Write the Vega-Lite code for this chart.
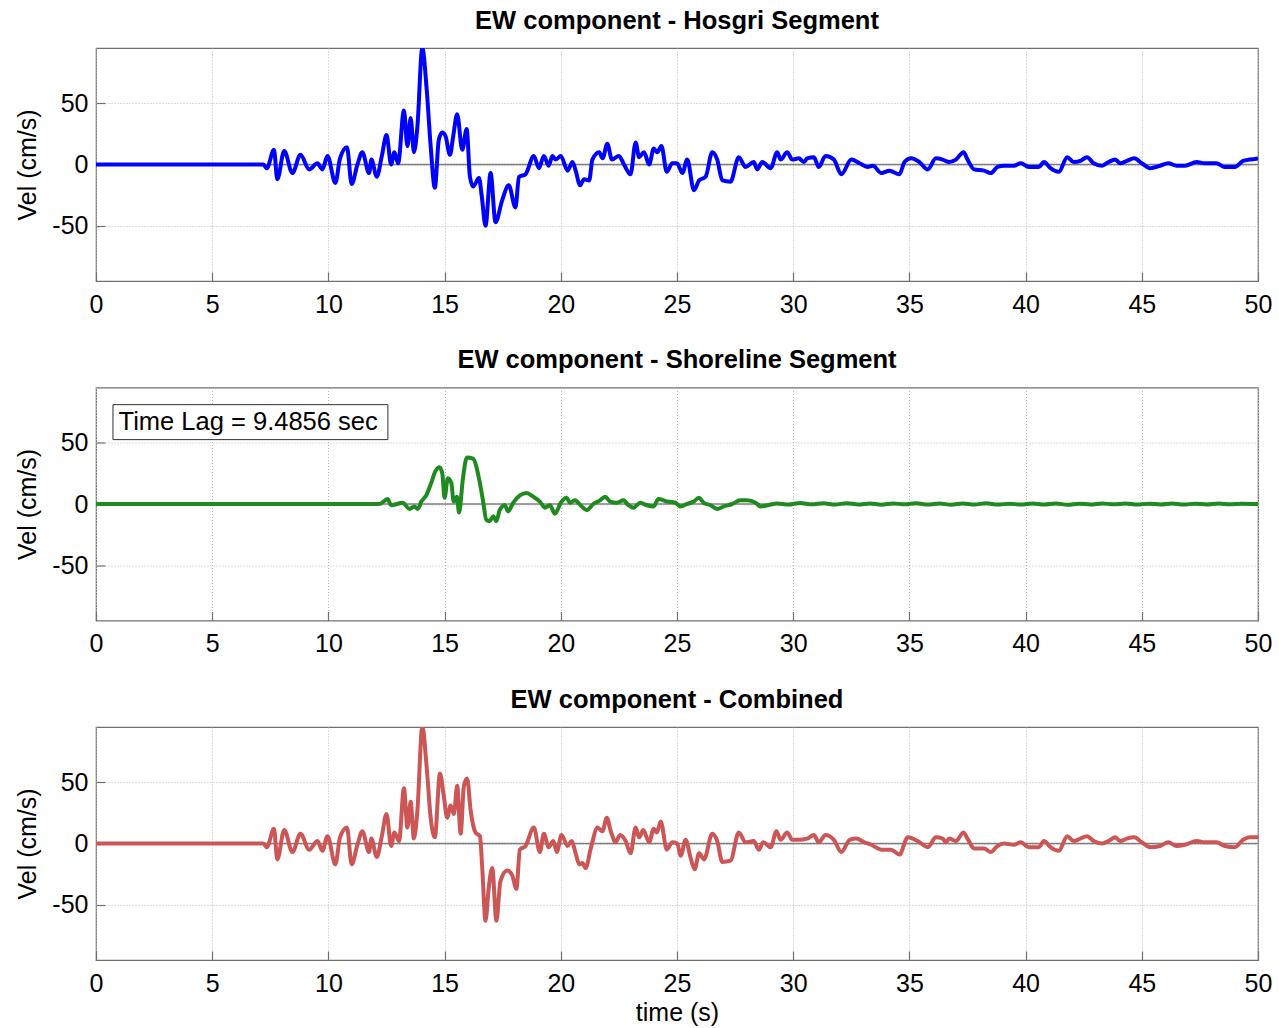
{
  "$schema": "https://vega.github.io/schema/vega-lite/v6.json",
  "padding": {"left": 15, "top": 7, "right": 20, "bottom": 0},
  "spacing": 28.5,
  "config": {
    "font": "Liberation Sans",
    "background": "white",
    "view": {"stroke": "#707070", "strokeWidth": 1.2},
    "axis": {
      "labelFont": "Liberation Sans", "labelFontSize": 25, "labelColor": "#000000", "labelFlush": false,
      "labelExpr": "'' + datum.value",
      "titleFont": "Liberation Sans", "titleFontSize": 25, "titleFontWeight": "normal", "titleColor": "#000000",
      "grid": true, "gridColor": "#b8b8b8", "gridDash": [1, 2], "gridWidth": 1,
      "domain": false, "tickColor": "#707070", "tickSize": -9, "tickWidth": 1.2
    },
    "title": {"font": "Liberation Sans", "fontSize": 25.5, "fontWeight": "bold", "color": "#000000", "anchor": "middle", "offset": 14}
  },
  "datasets": {
    "hosgri": [
      {"t":0,"v":0},{"t":7.2,"v":0},{"t":7.35,"v":-3},{"t":7.66,"v":12},{"t":7.8,"v":-12},{"t":8.1,"v":11},{"t":8.45,"v":-7},{"t":8.8,"v":8},{"t":9.17,"v":-4},{"t":9.53,"v":1},{"t":9.74,"v":-4},{"t":9.96,"v":7},{"t":10.3,"v":-15},{"t":10.5,"v":5},{"t":10.8,"v":14},{"t":11.0,"v":-16},{"t":11.25,"v":0},{"t":11.46,"v":10},{"t":11.75,"v":-7},{"t":11.85,"v":4},{"t":12.08,"v":-10},{"t":12.3,"v":7},{"t":12.5,"v":24},{"t":12.7,"v":0},{"t":12.84,"v":10},{"t":13.0,"v":1},{"t":13.25,"v":44},{"t":13.4,"v":15},{"t":13.54,"v":38},{"t":13.68,"v":10},{"t":13.83,"v":31},{"t":14.04,"v":95},{"t":14.23,"v":61},{"t":14.4,"v":15},{"t":14.58,"v":-19},{"t":14.75,"v":20},{"t":14.9,"v":26},{"t":15.04,"v":23},{"t":15.23,"v":8},{"t":15.37,"v":23},{"t":15.54,"v":41},{"t":15.76,"v":12},{"t":15.95,"v":29},{"t":16.09,"v":-10},{"t":16.23,"v":-18},{"t":16.48,"v":-11},{"t":16.6,"v":-26},{"t":16.76,"v":-50},{"t":16.98,"v":-7},{"t":17.19,"v":-47},{"t":17.48,"v":-29},{"t":17.76,"v":-17},{"t":18.05,"v":-35},{"t":18.2,"v":-10},{"t":18.48,"v":-8},{"t":18.84,"v":7},{"t":19.06,"v":-3},{"t":19.27,"v":7},{"t":19.48,"v":-1},{"t":19.64,"v":7},{"t":19.78,"v":4},{"t":20.0,"v":7},{"t":20.29,"v":-5},{"t":20.5,"v":2},{"t":20.64,"v":-5},{"t":20.83,"v":-17},{"t":21.0,"v":-12},{"t":21.22,"v":-13},{"t":21.36,"v":4},{"t":21.65,"v":10},{"t":21.8,"v":5},{"t":22.0,"v":17},{"t":22.2,"v":4},{"t":22.5,"v":7},{"t":22.72,"v":0},{"t":23.0,"v":-8},{"t":23.22,"v":18},{"t":23.37,"v":6},{"t":23.58,"v":10},{"t":23.8,"v":0},{"t":24.0,"v":13},{"t":24.15,"v":10},{"t":24.33,"v":15},{"t":24.56,"v":-6},{"t":24.8,"v":1},{"t":25.0,"v":1},{"t":25.23,"v":-7},{"t":25.44,"v":4},{"t":25.73,"v":-21},{"t":25.95,"v":-13},{"t":26.23,"v":-10},{"t":26.52,"v":10},{"t":26.73,"v":4},{"t":26.95,"v":-13},{"t":27.3,"v":-14},{"t":27.66,"v":6},{"t":27.95,"v":-2},{"t":28.3,"v":2},{"t":28.45,"v":-4},{"t":28.67,"v":2},{"t":29.03,"v":-3},{"t":29.31,"v":10},{"t":29.46,"v":4},{"t":29.74,"v":10},{"t":29.96,"v":4},{"t":30.24,"v":5},{"t":30.46,"v":2},{"t":30.6,"v":5},{"t":30.89,"v":6},{"t":31.1,"v":-2},{"t":31.39,"v":7},{"t":31.75,"v":4},{"t":32.07,"v":-8},{"t":32.5,"v":4},{"t":32.86,"v":1},{"t":33.2,"v":-2},{"t":33.43,"v":-1},{"t":33.79,"v":-7},{"t":34.14,"v":-5},{"t":34.57,"v":-8},{"t":34.79,"v":2},{"t":35.07,"v":5},{"t":35.43,"v":2},{"t":35.79,"v":-4},{"t":36.14,"v":5},{"t":36.43,"v":4},{"t":36.71,"v":2},{"t":37.0,"v":4},{"t":37.33,"v":10},{"t":37.5,"v":4},{"t":37.79,"v":-4},{"t":38.21,"v":-5},{"t":38.5,"v":-7},{"t":38.79,"v":-2},{"t":39.07,"v":-1},{"t":39.5,"v":-1},{"t":39.79,"v":1},{"t":40.14,"v":-2},{"t":40.57,"v":-2},{"t":40.79,"v":2},{"t":41.07,"v":-3},{"t":41.43,"v":-6},{"t":41.79,"v":6},{"t":42.07,"v":2},{"t":42.36,"v":3},{"t":42.64,"v":6},{"t":42.93,"v":1},{"t":43.29,"v":-1},{"t":43.57,"v":2},{"t":43.86,"v":4},{"t":44.07,"v":1},{"t":44.36,"v":3},{"t":44.67,"v":5},{"t":45.0,"v":1},{"t":45.36,"v":-3},{"t":45.79,"v":-1},{"t":46.14,"v":1},{"t":46.5,"v":-1},{"t":46.86,"v":-1},{"t":47.36,"v":2},{"t":47.71,"v":1},{"t":48.21,"v":1},{"t":48.57,"v":-2},{"t":49.0,"v":-2},{"t":49.36,"v":3},{"t":49.64,"v":4},{"t":50,"v":5}
    ],
    "shoreline": [
      {"t":0,"v":0},{"t":12.2,"v":0},{"t":12.55,"v":4},{"t":12.7,"v":-1},{"t":13.2,"v":1},{"t":13.49,"v":-4},{"t":13.7,"v":-2},{"t":13.85,"v":-4},{"t":14.0,"v":2},{"t":14.21,"v":7},{"t":14.42,"v":17},{"t":14.61,"v":27},{"t":14.78,"v":30},{"t":14.9,"v":25},{"t":15.0,"v":5},{"t":15.14,"v":21},{"t":15.29,"v":17},{"t":15.39,"v":2},{"t":15.53,"v":6},{"t":15.62,"v":-7},{"t":15.79,"v":21},{"t":15.96,"v":38},{"t":16.22,"v":37},{"t":16.51,"v":18},{"t":16.65,"v":3},{"t":16.8,"v":-13},{"t":16.94,"v":-14},{"t":17.09,"v":-10},{"t":17.23,"v":-14},{"t":17.37,"v":-5},{"t":17.59,"v":-1},{"t":17.73,"v":-6},{"t":17.95,"v":1},{"t":18.24,"v":7},{"t":18.53,"v":9},{"t":18.81,"v":6},{"t":19.1,"v":2},{"t":19.32,"v":-3},{"t":19.53,"v":-1},{"t":19.75,"v":-8},{"t":20.0,"v":1},{"t":20.25,"v":5},{"t":20.4,"v":1},{"t":20.6,"v":3},{"t":20.9,"v":-2},{"t":21.12,"v":-5},{"t":21.4,"v":0},{"t":21.69,"v":3},{"t":21.91,"v":6},{"t":22.12,"v":2},{"t":22.41,"v":1},{"t":22.7,"v":3},{"t":22.91,"v":-1},{"t":23.13,"v":-3},{"t":23.42,"v":1},{"t":23.7,"v":-1},{"t":23.99,"v":-2},{"t":24.2,"v":4},{"t":24.57,"v":2},{"t":24.93,"v":1},{"t":25.14,"v":-2},{"t":25.43,"v":0},{"t":25.72,"v":2},{"t":25.94,"v":5},{"t":26.15,"v":1},{"t":26.44,"v":-1},{"t":26.73,"v":-4},{"t":27.01,"v":-2},{"t":27.37,"v":0},{"t":27.73,"v":3},{"t":28.02,"v":3},{"t":28.38,"v":1},{"t":28.6,"v":-2},{"t":28.9,"v":-1},{"t":29.3,"v":0.5},{"t":29.8,"v":-0.5},{"t":30.3,"v":0.8},{"t":30.8,"v":-0.3},{"t":31.3,"v":0.6},{"t":31.8,"v":-0.5},{"t":32.3,"v":0.7},{"t":32.8,"v":-0.4},{"t":33.3,"v":0.5},{"t":33.8,"v":-0.6},{"t":34.3,"v":0.5},{"t":34.8,"v":-0.3},{"t":35.3,"v":0.6},{"t":35.8,"v":-0.5},{"t":36.3,"v":0.4},{"t":36.8,"v":-0.6},{"t":37.3,"v":0.5},{"t":37.8,"v":-0.4},{"t":38.3,"v":0.6},{"t":38.8,"v":-0.5},{"t":39.3,"v":0.3},{"t":39.8,"v":-0.5},{"t":40.3,"v":0.5},{"t":40.8,"v":-0.4},{"t":41.3,"v":0.4},{"t":41.8,"v":-0.6},{"t":42.3,"v":0.3},{"t":42.8,"v":-0.4},{"t":43.3,"v":0.5},{"t":43.8,"v":-0.3},{"t":44.3,"v":0.4},{"t":44.8,"v":-0.5},{"t":45.3,"v":0.3},{"t":45.8,"v":-0.4},{"t":46.3,"v":0.4},{"t":46.8,"v":-0.5},{"t":47.3,"v":0.3},{"t":47.8,"v":-0.4},{"t":48.3,"v":0.4},{"t":48.8,"v":-0.3},{"t":49.3,"v":0.3},{"t":50,"v":0}
    ],
    "combined": [
      {"t":0,"v":0},{"t":7.2,"v":0},{"t":7.35,"v":-3},{"t":7.66,"v":12},{"t":7.8,"v":-13},{"t":8.1,"v":11},{"t":8.45,"v":-7},{"t":8.8,"v":8},{"t":9.17,"v":-5},{"t":9.53,"v":2},{"t":9.74,"v":-6},{"t":9.96,"v":6},{"t":10.3,"v":-17},{"t":10.5,"v":5},{"t":10.8,"v":13},{"t":11.0,"v":-17},{"t":11.25,"v":-1},{"t":11.46,"v":10},{"t":11.75,"v":-7},{"t":11.85,"v":4},{"t":12.08,"v":-11},{"t":12.3,"v":6},{"t":12.5,"v":24},{"t":12.7,"v":-2},{"t":12.84,"v":9},{"t":13.04,"v":2},{"t":13.25,"v":45},{"t":13.4,"v":13},{"t":13.54,"v":34},{"t":13.68,"v":4},{"t":13.83,"v":27},{"t":14.04,"v":95},{"t":14.23,"v":62},{"t":14.4,"v":21},{"t":14.58,"v":5},{"t":14.8,"v":57},{"t":14.97,"v":38},{"t":15.11,"v":21},{"t":15.26,"v":31},{"t":15.4,"v":24},{"t":15.54,"v":47},{"t":15.69,"v":8},{"t":15.83,"v":47},{"t":15.97,"v":53},{"t":16.12,"v":27},{"t":16.33,"v":9},{"t":16.52,"v":6},{"t":16.62,"v":-20},{"t":16.76,"v":-63},{"t":16.9,"v":-36},{"t":17.05,"v":-20},{"t":17.23,"v":-63},{"t":17.4,"v":-31},{"t":17.69,"v":-22},{"t":17.91,"v":-26},{"t":18.09,"v":-37},{"t":18.24,"v":-5},{"t":18.48,"v":-2},{"t":18.84,"v":13},{"t":19.1,"v":-7},{"t":19.27,"v":8},{"t":19.48,"v":-3},{"t":19.68,"v":2},{"t":19.83,"v":-7},{"t":20.03,"v":7},{"t":20.29,"v":-2},{"t":20.46,"v":2},{"t":20.64,"v":-8},{"t":20.79,"v":-17},{"t":20.93,"v":-16},{"t":21.07,"v":-20},{"t":21.29,"v":-4},{"t":21.58,"v":13},{"t":21.79,"v":10},{"t":21.98,"v":21},{"t":22.15,"v":10},{"t":22.36,"v":1},{"t":22.55,"v":7},{"t":22.79,"v":2},{"t":23.0,"v":-8},{"t":23.22,"v":13},{"t":23.37,"v":5},{"t":23.55,"v":11},{"t":23.8,"v":1},{"t":24.0,"v":12},{"t":24.13,"v":9},{"t":24.3,"v":18},{"t":24.56,"v":-5},{"t":24.8,"v":1},{"t":25.01,"v":0},{"t":25.16,"v":-10},{"t":25.37,"v":3},{"t":25.59,"v":-12},{"t":25.76,"v":-21},{"t":25.95,"v":-8},{"t":26.16,"v":-13},{"t":26.52,"v":8},{"t":26.73,"v":2},{"t":26.95,"v":-15},{"t":27.3,"v":-14},{"t":27.66,"v":9},{"t":27.95,"v":1},{"t":28.3,"v":2},{"t":28.52,"v":-5},{"t":28.71,"v":1},{"t":29.03,"v":-3},{"t":29.28,"v":10},{"t":29.46,"v":3},{"t":29.74,"v":9},{"t":29.96,"v":3},{"t":30.24,"v":3},{"t":30.6,"v":4},{"t":30.89,"v":7},{"t":31.1,"v":1},{"t":31.39,"v":7},{"t":31.75,"v":3},{"t":32.07,"v":-7},{"t":32.43,"v":3},{"t":32.71,"v":4},{"t":33.07,"v":1},{"t":33.36,"v":-1},{"t":33.79,"v":-5},{"t":34.21,"v":-5},{"t":34.57,"v":-9},{"t":34.93,"v":5},{"t":35.36,"v":2},{"t":35.79,"v":-3},{"t":36.14,"v":5},{"t":36.43,"v":4},{"t":36.57,"v":1},{"t":36.71,"v":4},{"t":37.0,"v":2},{"t":37.33,"v":9},{"t":37.5,"v":4},{"t":37.79,"v":-4},{"t":38.21,"v":-4},{"t":38.5,"v":-7},{"t":38.79,"v":-2},{"t":39.07,"v":0},{"t":39.5,"v":-1},{"t":39.79,"v":1},{"t":40.14,"v":-3},{"t":40.57,"v":-3},{"t":40.79,"v":2},{"t":41.07,"v":-3},{"t":41.43,"v":-6},{"t":41.79,"v":6},{"t":42.07,"v":2},{"t":42.36,"v":4},{"t":42.64,"v":6},{"t":42.93,"v":2},{"t":43.29,"v":0},{"t":43.57,"v":2},{"t":43.86,"v":5},{"t":44.07,"v":2},{"t":44.36,"v":4},{"t":44.67,"v":5},{"t":45.0,"v":1},{"t":45.36,"v":-3},{"t":45.79,"v":-2},{"t":46.14,"v":1},{"t":46.5,"v":-2},{"t":46.86,"v":-1},{"t":47.36,"v":2},{"t":47.71,"v":1},{"t":48.21,"v":1},{"t":48.57,"v":-2},{"t":49.0,"v":-3},{"t":49.36,"v":3},{"t":49.64,"v":5},{"t":50,"v":5}
    ],
    "zero": [{"v": 0}],
    "note": [{"label": "Time Lag = 9.4856 sec"}]
  },
  "vconcat": [
    {
      "width": 1162, "height": 233,
      "title": {"text": "EW component - Hosgri Segment"},
      "layer": [
        {"data": {"name": "zero"}, "mark": {"type": "rule", "color": "#808080", "strokeWidth": 1.5},
         "encoding": {"y": {"field": "v", "type": "quantitative", "scale": {"domain": [-95, 95]}}}},
        {"data": {"name": "hosgri"}, "mark": {"type": "line", "color": "#0000ff", "strokeWidth": 4, "interpolate": "monotone", "clip": true},
         "encoding": {
           "x": {"field": "t", "type": "quantitative", "scale": {"domain": [0, 50], "nice": false}, "axis": {"values": [0,5,10,15,20,25,30,35,40,45,50], "title": null, "labelPadding": 20}},
           "y": {"field": "v", "type": "quantitative", "scale": {"domain": [-95, 95], "nice": false}, "axis": {"values": [-50, 0, 50], "title": "Vel (cm/s)", "labelPadding": 17, "titlePadding": 11}}
         }}
      ]
    },
    {
      "width": 1162, "height": 233,
      "title": {"text": "EW component - Shoreline Segment"},
      "layer": [
        {"data": {"name": "zero"}, "mark": {"type": "rule", "color": "#808080", "strokeWidth": 1.5},
         "encoding": {"y": {"field": "v", "type": "quantitative", "scale": {"domain": [-95, 95]}}}},
        {"data": {"name": "shoreline"}, "mark": {"type": "line", "color": "#1f8a1f", "strokeWidth": 4, "interpolate": "monotone", "clip": true},
         "encoding": {
           "x": {"field": "t", "type": "quantitative", "scale": {"domain": [0, 50], "nice": false}, "axis": {"values": [0,5,10,15,20,25,30,35,40,45,50], "title": null, "labelPadding": 20}},
           "y": {"field": "v", "type": "quantitative", "scale": {"domain": [-95, 95], "nice": false}, "axis": {"values": [-50, 0, 50], "title": "Vel (cm/s)", "labelPadding": 17, "titlePadding": 11}}
         }},
        {"data": {"name": "note"}, "mark": {"type": "rect", "fill": "white", "stroke": "#303030", "strokeWidth": 1},
         "encoding": {"x": {"datum": 0.73, "type": "quantitative"}, "x2": {"datum": 12.56}, "y": {"datum": 52.5, "type": "quantitative"}, "y2": {"datum": 81}}},
        {"data": {"name": "note"}, "mark": {"type": "text", "align": "left", "baseline": "middle", "fontSize": 25.5, "font": "Liberation Sans", "color": "#000000"},
         "encoding": {"x": {"datum": 0.97, "type": "quantitative"}, "y": {"datum": 66.5, "type": "quantitative"}, "text": {"field": "label"}}}
      ]
    },
    {
      "width": 1162, "height": 233,
      "title": {"text": "EW component - Combined"},
      "layer": [
        {"data": {"name": "zero"}, "mark": {"type": "rule", "color": "#808080", "strokeWidth": 1.5},
         "encoding": {"y": {"field": "v", "type": "quantitative", "scale": {"domain": [-95, 95]}}}},
        {"data": {"name": "combined"}, "mark": {"type": "line", "color": "#cc5555", "strokeWidth": 4, "interpolate": "monotone", "clip": true},
         "encoding": {
           "x": {"field": "t", "type": "quantitative", "scale": {"domain": [0, 50], "nice": false}, "axis": {"values": [0,5,10,15,20,25,30,35,40,45,50], "title": "time (s)", "labelPadding": 20, "titlePadding": 4}},
           "y": {"field": "v", "type": "quantitative", "scale": {"domain": [-95, 95], "nice": false}, "axis": {"values": [-50, 0, 50], "title": "Vel (cm/s)", "labelPadding": 17, "titlePadding": 11}}
         }}
      ]
    }
  ]
}
